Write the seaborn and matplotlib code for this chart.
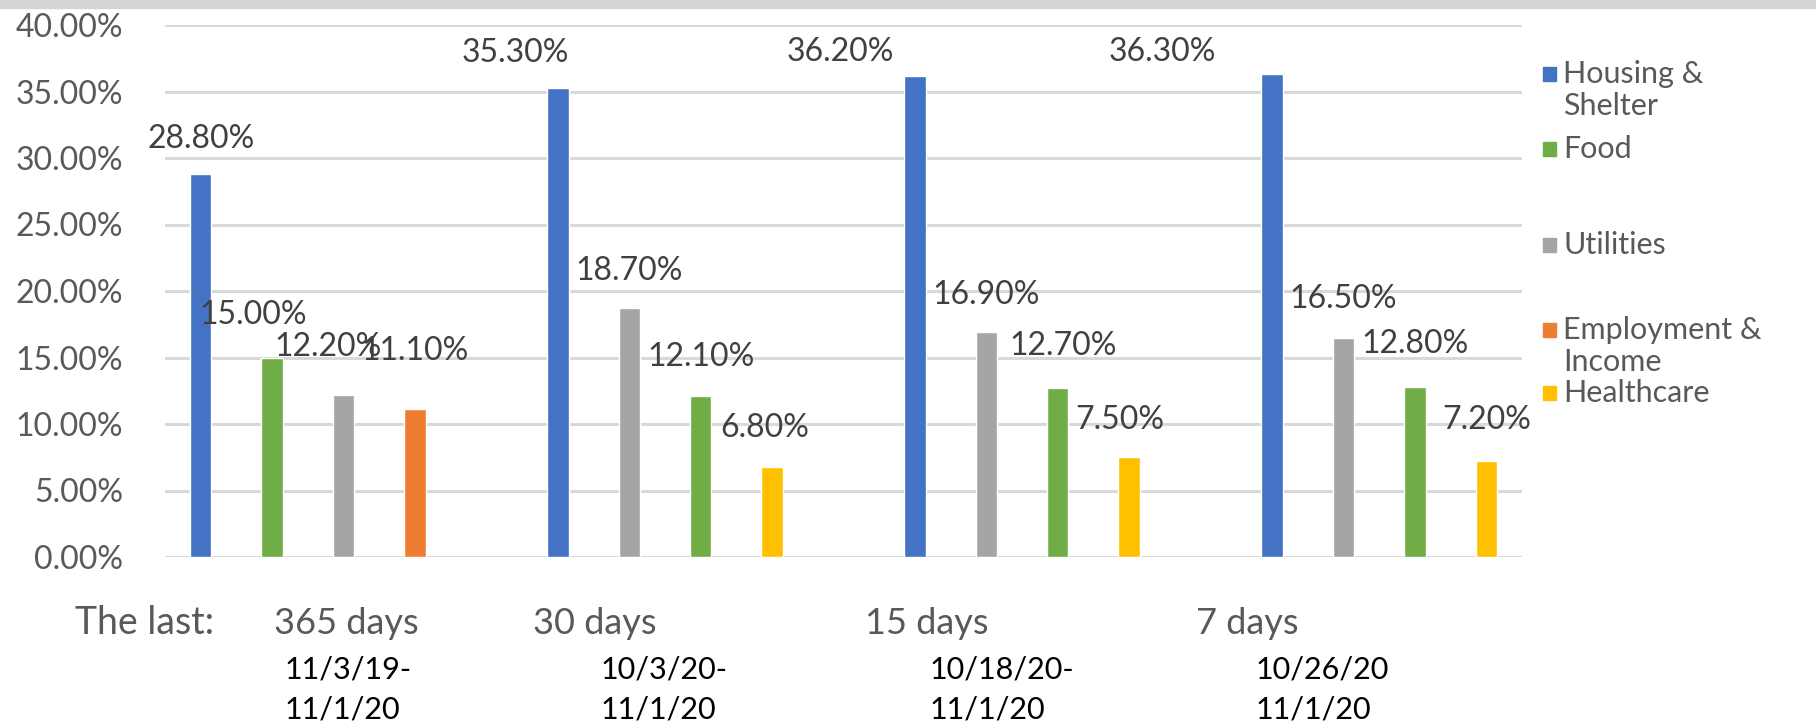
import numpy as np
import pandas as pd
import seaborn as sns
import matplotlib.pyplot as plt
from matplotlib.patches import Rectangle
from matplotlib.transforms import blended_transform_factory

sns.set_theme(style="white")
plt.rcParams['font.family'] = ['Lato', 'DejaVu Sans']

# data
periods = ["365 days", "30 days", "15 days", "7 days"]
date_ranges = ["11/3/19-\n11/1/20", "10/3/20-\n11/1/20", "10/18/20-\n11/1/20", "10/26/20\n11/1/20"]
ranked_cats = [
    ["Housing & Shelter", "Food", "Utilities", "Employment & Income"],
    ["Housing & Shelter", "Utilities", "Food", "Healthcare"],
    ["Housing & Shelter", "Utilities", "Food", "Healthcare"],
    ["Housing & Shelter", "Utilities", "Food", "Healthcare"],
]
ranked_vals = [
    [28.8, 15.0, 12.2, 11.1],
    [35.3, 18.7, 12.1, 6.8],
    [36.2, 16.9, 12.7, 7.5],
    [36.3, 16.5, 12.8, 7.2],
]
legend_names = ["Housing &\nShelter", "Food", "Utilities", "Employment &\nIncome", "Healthcare"]
cat_order = ["Housing & Shelter", "Food", "Utilities", "Employment & Income", "Healthcare"]
palette = {"Housing & Shelter": "#4472C4", "Food": "#70AD47", "Utilities": "#A5A5A5",
           "Employment & Income": "#ED7D31", "Healthcare": "#FFC000"}

# label nudges (dx in slots, dy in % points above bar top)
label_dx = [[0, -0.27, -0.22, 0], [-0.6, 0, 0, -0.1], [-1.04, 0, 0.08, -0.13], [-1.53, 0, 0, 0]]
label_dy = [[2.6, 3.2, 3.6, 4.4], [2.6, 2.8, 2.9, 2.9], [1.8, 2.8, 3.2, 2.8], [1.65, 2.9, 3.2, 3.1]]

rows = []
for g in range(len(periods)):
    for r in range(4):
        rows.append({"slot": 5 * g + r, "value": ranked_vals[g][r], "category": ranked_cats[g][r]})
df = pd.DataFrame(rows)

W, H = 1816, 724
fig = plt.figure(figsize=(W / 100, H / 100), dpi=100)
ax = fig.add_axes([165 / W, 1 - 557 / H, (1522 - 165) / W, (557 - 25) / H])

sns.barplot(data=df, x="slot", y="value", hue="category", hue_order=cat_order, palette=palette,
            dodge=False, native_scale=True, width=0.3, errorbar=None, legend=False,
            saturation=1, ax=ax)

ax.set_xlim(-0.5, 18.5)
ax.set_ylim(0, 40)
ax.set_yticks(np.arange(0, 40.1, 5))
ax.set_yticklabels([f"{v:.2f}%" for v in np.arange(0, 40.1, 5)], fontsize=23, color="#595959")
ax.tick_params(axis="y", length=0, pad=30)
ax.set_xticks([])
ax.set_xlabel("")
ax.set_ylabel("")
ax.yaxis.grid(True, color="#D9D9D9", linewidth=2.2)
ax.set_axisbelow(True)
for s in ax.spines.values():
    s.set_visible(False)

# value labels
for g in range(len(periods)):
    for r in range(4):
        v = ranked_vals[g][r]
        ax.text(5 * g + r + label_dx[g][r], v + label_dy[g][r], f"{v:.2f}%",
                ha="center", va="center", fontsize=23, color="#404040")

# category labels under the axis
tr = blended_transform_factory(ax.transData, fig.transFigure)
ax.text(-1.76, 1 - 623 / H, "The last:", transform=tr, ha="left", va="center",
        fontsize=27, color="#595959", clip_on=False)
period_x = [1.03, 4.65, 9.3, 13.93]
date_x = [1.17, 5.6, 10.2, 14.77]
for g in range(len(periods)):
    ax.text(period_x[g], 1 - 623 / H, periods[g], transform=tr, ha="left", va="center",
            fontsize=26, color="#595959", clip_on=False)
    d1, d2 = date_ranges[g].split("\n")
    ax.text(date_x[g], 1 - 669 / H, d1, transform=tr, ha="left", va="center",
            fontsize=22, color="black", clip_on=False)
    ax.text(date_x[g], 1 - 709 / H, d2, transform=tr, ha="left", va="center",
            fontsize=22, color="black", clip_on=False)

# legend drawn by hand to keep the uneven spacing
leg_y = [90, 149, 245, 346, 393]
for name, key, y in zip(legend_names, cat_order, leg_y):
    nl = name.count("\n")
    top_y = y - 16 * nl
    fig.add_artist(Rectangle((1543 / W, 1 - (top_y + 7) / H), 13 / W, 14 / H,
                             transform=fig.transFigure, color=palette[key]))
    fig.text(1563 / W, 1 - top_y / H, name.split("\n")[0], ha="left", va="center",
             fontsize=22, color="#595959")
    if nl:
        fig.text(1563 / W, 1 - (top_y + 32) / H, name.split("\n")[1], ha="left", va="center",
                 fontsize=22, color="#595959")

# grey band at the very top
fig.add_artist(Rectangle((0, 1 - 8 / H), 1, 8 / H, transform=fig.transFigure, color="#D6D6D6"))

fig.savefig("out.png", dpi=100)
